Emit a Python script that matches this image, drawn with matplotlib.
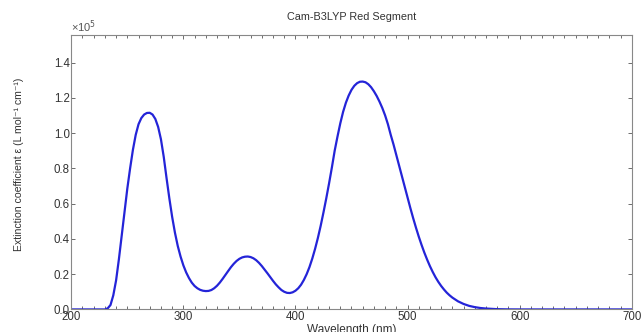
import matplotlib
matplotlib.use('Agg')
import matplotlib.pyplot as plt
from matplotlib.ticker import MultipleLocator

plt.rcParams['font.family'] = ['Liberation Sans', 'DejaVu Sans']

# wavelength (nm) and extinction coefficient (x 1e5 L mol^-1 cm^-1)
wavelength = [200, 210, 220, 225, 230, 232.5, 235, 237.5, 240, 242.5, 245, 247.5, 250, 252.5,
              255, 257.5, 260, 262.5, 265, 267.5, 270, 272.5, 275, 277.5, 280, 282.5, 285, 287.5,
              290, 292.5, 295, 297.5, 300, 302.5, 305, 307.5, 310, 312.5, 315, 317.5, 320, 322.5,
              325, 327.5, 330, 332.5, 335, 337.5, 340, 342.5, 345, 347.5, 350, 352.5, 355, 357.5,
              360, 362.5, 365, 367.5, 370, 372.5, 375, 377.5, 380, 382.5, 385, 387.5, 390, 392.5,
              395, 397.5, 400, 402.5, 405, 407.5, 410, 412.5, 415, 417.5, 420, 422.5, 425, 427.5,
              430, 432.5, 435, 437.5, 440, 442.5, 445, 447.5, 450, 452.5, 455, 457.5, 460, 462.5,
              465, 467.5, 470, 472.5, 475, 477.5, 480, 482.5, 485, 487.5, 490, 492.5, 495, 497.5,
              500, 502.5, 505, 507.5, 510, 512.5, 515, 517.5, 520, 522.5, 525, 527.5, 530, 532.5,
              535, 537.5, 540, 545, 550, 555, 560, 565, 570, 575, 580, 585, 590, 600, 650, 700]
epsilon = [0.0, 0.0, 0.0, 0.0, 0.0, 0.006, 0.025, 0.08, 0.165, 0.285, 0.42, 0.555, 0.685, 0.80,
           0.905, 0.99, 1.05, 1.085, 1.105, 1.114, 1.115, 1.105, 1.08, 1.035, 0.965, 0.865, 0.745, 0.63,
           0.525, 0.435, 0.36, 0.30, 0.25, 0.21, 0.178, 0.152, 0.133, 0.12, 0.111, 0.106, 0.104, 0.105,
           0.11, 0.12, 0.134, 0.152, 0.173, 0.196, 0.218, 0.24, 0.259, 0.275, 0.287, 0.295, 0.299, 0.30,
           0.297, 0.29, 0.279, 0.264, 0.246, 0.226, 0.205, 0.183, 0.162, 0.142, 0.125, 0.11, 0.10, 0.094,
           0.093, 0.097, 0.106, 0.12, 0.14, 0.167, 0.20, 0.24, 0.288, 0.343, 0.405, 0.474, 0.55, 0.63,
           0.715, 0.805, 0.90, 0.98, 1.055, 1.12, 1.172, 1.213, 1.245, 1.268, 1.283, 1.291, 1.292, 1.288,
           1.277, 1.26, 1.237, 1.21, 1.178, 1.142, 1.10, 1.05, 0.99, 0.935, 0.875, 0.815, 0.755, 0.694,
           0.634, 0.575, 0.518, 0.464, 0.413, 0.366, 0.322, 0.282, 0.245, 0.212, 0.182, 0.156, 0.133, 0.113,
           0.095, 0.08, 0.067, 0.046, 0.031, 0.02, 0.013, 0.008, 0.005, 0.003, 0.0015, 0.0007, 0.0003, 0.0, 0.0, 0.0]

x_ticks = [200, 300, 400, 500, 600, 700]
y_ticks = [0.0, 0.2, 0.4, 0.6, 0.8, 1.0, 1.2, 1.4]

fig = plt.figure(figsize=(6.42, 3.32), dpi=100)
ax = fig.add_axes([0.111, 0.068, 0.873, 0.826])

ax.plot(wavelength, epsilon, color='#2424d8', linewidth=1.6)

ax.set_xlim(200, 700)
ax.set_ylim(0, 1.555)
ax.set_xticks(x_ticks)
ax.set_yticks(y_ticks)
ax.set_yticklabels([f'{v:.1f}' for v in y_ticks])
ax.xaxis.set_minor_locator(MultipleLocator(10))

ax.tick_params(which='both', direction='in', top=True, right=True,
               colors='#555555', labelcolor='#333333', labelsize=8.3, pad=1)
ax.tick_params(which='major', length=3, width=0.6)
ax.tick_params(which='minor', length=2, width=0.6)
for sp in ax.spines.values():
    sp.set_color('#888888')
    sp.set_linewidth(0.8)

ax.set_title('Cam-B3LYP Red Segment', fontsize=7.8, color='#333333', pad=11)
ax.set_xlabel('Wavelength (nm)', fontsize=8.5, color='#333333', labelpad=1)
ax.set_ylabel('Extinction coefficient ε (L mol⁻¹ cm⁻¹)', fontsize=7.6, color='#333333')
ax.yaxis.set_label_coords(-0.085, 0.53)
ax.text(0.0, 1.0, '×10$^5$', transform=ax.transAxes, fontsize=8, color='#555555',
        ha='left', va='bottom')

fig.savefig('out.png', dpi=100)
